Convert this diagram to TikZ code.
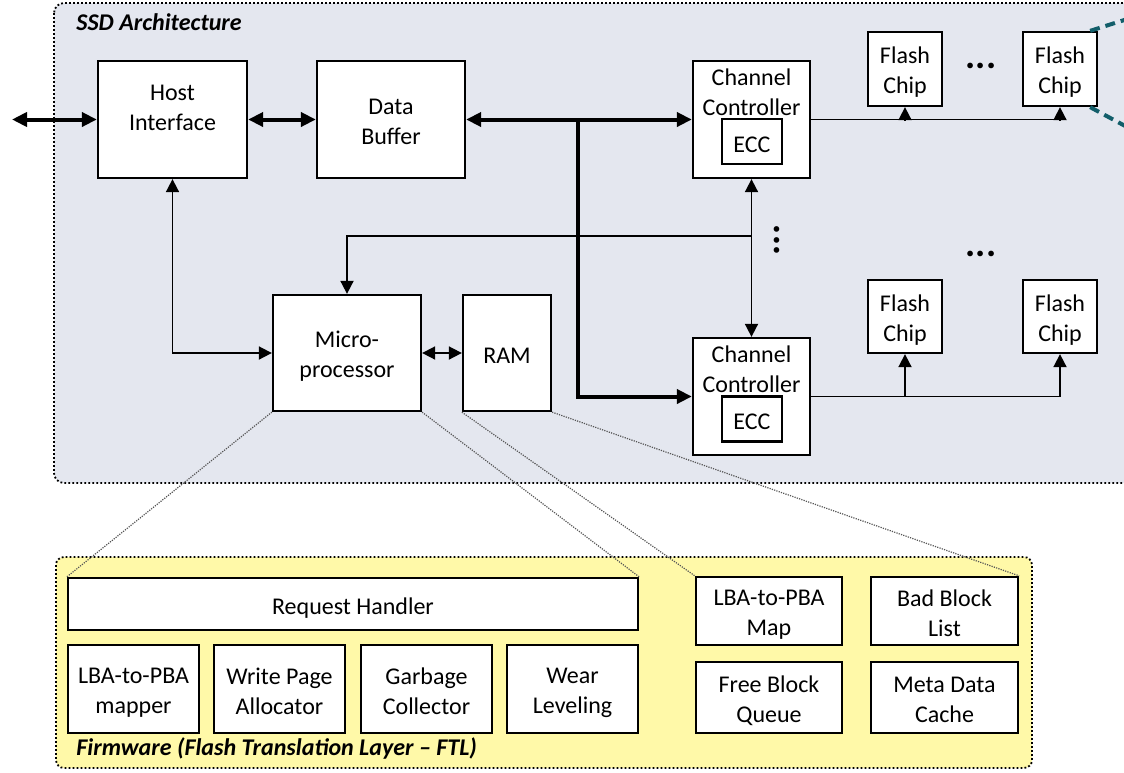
\documentclass[tikz,border=0pt]{standalone}
\usepackage{fontspec}
\setmainfont{Carlito}
\usetikzlibrary{arrows.meta}

\definecolor{ssdfill}{RGB}{228,231,239}
\definecolor{fwfill}{RGB}{255,249,168}
\definecolor{linkteal}{RGB}{18,94,106}
\definecolor{projgray}{RGB}{85,85,85}

\tikzset{
  blkbase/.style={draw=black, fill=white, line width=1.15pt, inner sep=0pt,
    align=center, font=\fontsize{12}{15}\selectfont},
  % one-line boxes
  blk/.style={blkbase,
    execute at begin node={\rule{0pt}{12pt}},
    execute at end node={\rule[-1.5pt]{0pt}{1.5pt}}},
  % two-line boxes
  blkii/.style={blkbase,
    execute at begin node={\rule{0pt}{26.5pt}},
    execute at end node={\rule[-1.5pt]{0pt}{1.5pt}}},
  lbl/.style={inner sep=0pt, align=center, font=\fontsize{12}{15}\selectfont},
  ttl/.style={inner sep=0pt, anchor=base west,
    font=\fontsize{12}{15}\selectfont\bfseries\itshape},
  dotsym/.style={inner sep=0pt, font=\fontsize{19}{19}\selectfont\bfseries},
  frame/.style={line width=0.9pt, dash pattern=on 0.9pt off 1.1pt, rounded corners=5pt},
  link/.style={line width=0.9pt, line join=miter},
  one/.style={link, -{Triangle[length=6.5pt,width=6.5pt]}},
  two/.style={link, {Triangle[length=6.5pt,width=6.5pt]}-{Triangle[length=6.5pt,width=6.5pt]}},
  bus/.style={line width=2pt, line join=miter},
  bigone/.style={bus, -{Triangle[length=7.5pt,width=7pt]}},
  bigtwo/.style={bus, {Triangle[length=7.5pt,width=7pt]}-{Triangle[length=7.5pt,width=7pt]}},
  proj/.style={draw=projgray, line width=0.6pt, dash pattern=on 0.6pt off 0.6pt},
  zoomline/.style={draw=linkteal, line width=2pt, dash pattern=on 5pt off 3pt},
}

\begin{document}
\begin{tikzpicture}[x=0.5pt,y=-0.5pt]
  \clip (0,0) rectangle (1124,772);
  \fill[white] (0,0) rectangle (1124,772);

  % enclosing regions
  \path[frame, draw=black, fill=ssdfill] (54,3) rectangle (1160,483);
  \path[frame, draw=black, fill=fwfill, rounded corners=4pt] (56,557) rectangle (1032,768);
  \node[ttl] (ssdtitle) at (76,30) {SSD Architecture};
  \node[ttl] (fwtitle) at (76,755) {Firmware (Flash Translation Layer -- FTL)};

  % controller side
  \node[blk, minimum width=74.5pt, minimum height=58.5pt] (host) at (172.5,119.5) {};
  \node[lbl] (hostlbl) at (172.5,108) {Host\\Interface};
  \node[blkii, minimum width=74pt, minimum height=58.5pt] (buf) at (391,119.5) {Data\\Buffer};

  \node[blk, minimum width=58.5pt, minimum height=58.5pt] (cc1) at (751.5,119.5) {};
  \node[lbl] (cc1lbl) at (751.5,92) {Channel\\Controller};
  \node[blk, minimum width=30pt, minimum height=22.5pt] (ecc1) at (752,141.5) {ECC};

  \node[blk, minimum width=58.5pt, minimum height=58.5pt] (cc2) at (751.5,396.5) {};
  \node[lbl] (cc2lbl) at (751.5,369.5) {Channel\\Controller};
  \node[blk, minimum width=30pt, minimum height=22.5pt] (ecc2) at (752,419) {ECC};

  \node[blkii, minimum width=37pt, minimum height=37pt] (chip1) at (905,69) {Flash\\Chip};
  \node[blkii, minimum width=37pt, minimum height=37pt] (chip2) at (1060,69) {Flash\\Chip};
  \node[blkii, minimum width=37pt, minimum height=36.5pt] (chip3) at (905,316.5) {Flash\\Chip};
  \node[blkii, minimum width=37pt, minimum height=36.5pt] (chip4) at (1060,316.5) {Flash\\Chip};

  \node[blkii, minimum width=74pt, minimum height=58pt] (micro) at (347,353) {Micro-\\processor};
  \node[blk, minimum width=44pt, minimum height=58pt] (ram) at (507,353) {RAM};

  \node[dotsym] (dotsT) at (981,66) {...};
  \node[dotsym] (dotsB) at (981,254) {...};
  \node[dotsym, rotate=90] (dotsV) at (777,240) {...};

  % firmware modules
  \node[blk, minimum width=285pt, minimum height=26pt] (rh) at (353,604) {Request Handler};
  \node[blkii, minimum width=65.5pt, minimum height=44pt] (mapper) at (133.5,689) {LBA-to-PBA\\mapper};
  \node[blkii, minimum width=65.5pt, minimum height=44pt] (wpa) at (279.5,689) {Write Page\\Allocator};
  \node[blkii, minimum width=65.5pt, minimum height=44pt] (gc) at (426.5,689) {Garbage\\Collector};
  \node[blkii, minimum width=65.5pt, minimum height=44pt] (wl) at (572.5,689) {Wear\\Leveling};

  \node[blkii, minimum width=73pt, minimum height=34pt] (lmap) at (769,611) {LBA-to-PBA\\Map};
  \node[blkii, minimum width=73.5pt, minimum height=34pt] (bbl) at (944.5,611) {Bad Block\\List};
  \node[blkii, minimum width=73pt, minimum height=35.5pt] (fbq) at (769,697.5) {Free Block\\Queue};
  \node[blkii, minimum width=73.5pt, minimum height=35.5pt] (mdc) at (944.5,697.5) {Meta Data\\Cache};

  % data path
  \coordinate (ext) at (12,119.5);
  \coordinate (busT) at (578,119.5);
  \draw[bigtwo] (ext) -- (host.west);
  \draw[bigtwo] (host.east) -- (buf.west);
  \draw[bigtwo] (buf.east) -- (cc1.west);
  \draw[bigone] (busT) |- (cc2.west);

  % control path
  \coordinate (tapM) at (751.5,236);
  \draw[two] (cc1.south) -- (cc2.north);
  \draw[one] (tapM) -| (micro.north);
  \draw[two] (host.south) |- (micro.west);
  \draw[two] (micro.east) -- (ram.west);

  % flash channels
  \draw[one] (cc1.east) -| (chip2.south);
  \draw[one] (chip1.south |- cc1.east) -- (chip1.south);
  \draw[one] (cc2.east) -| (chip4.south);
  \draw[one] (chip3.south |- cc2.east) -- (chip3.south);

  % zoom-out lines from the last chip
  \coordinate (zA) at (1140,15);
  \coordinate (zB) at (1140,134);
  \draw[zoomline] ([xshift=-4pt]chip2.north east) -- (zA);
  \draw[zoomline] ([xshift=-4pt]chip2.south east) -- (zB);

  % projections into the firmware view
  \draw[proj] (micro.south west) -- (rh.north west);
  \draw[proj] (micro.south east) -- (rh.north east);
  \draw[proj] (ram.south west) -- (lmap.north west);
  \draw[proj] (ram.south east) -- (bbl.north east);
\end{tikzpicture}
\end{document}
